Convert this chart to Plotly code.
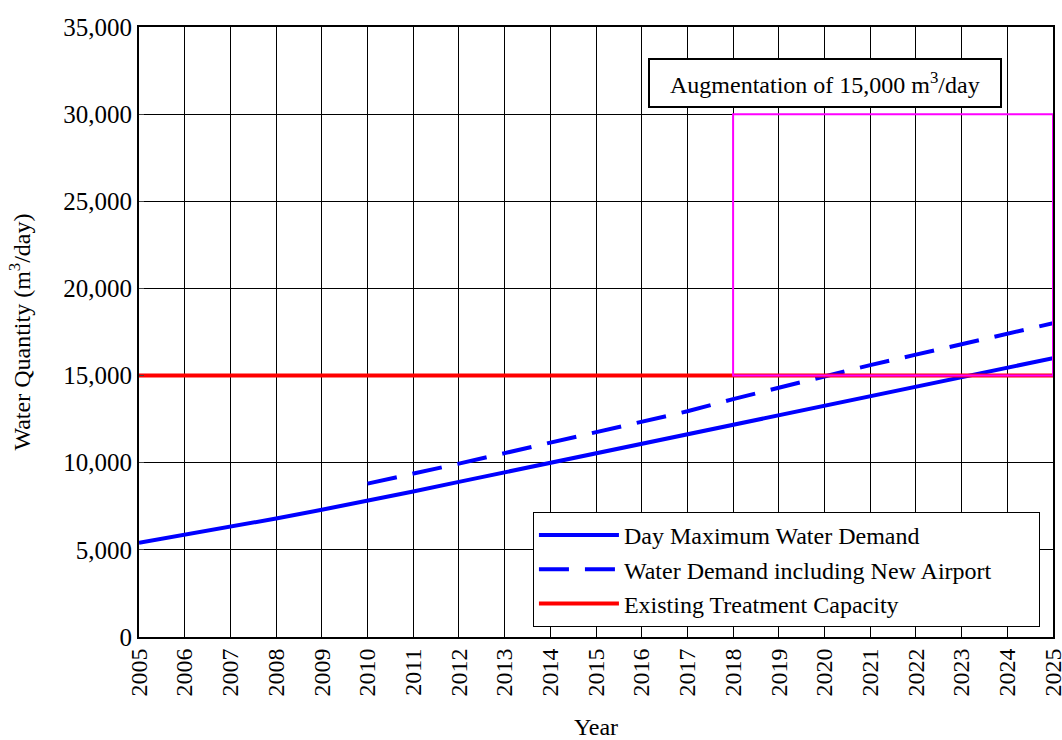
import plotly.graph_objects as go

years = list(range(2005, 2026))
day_max = [5400, 5850, 6300, 6800, 7300, 7800, 8350, 8900, 9450, 10000, 10550,
           11100, 11650, 12200, 12750, 13300, 13850, 14400, 14950, 15500, 16000]
airport_years = list(range(2010, 2026))
airport = [8800, 9350, 9950, 10550, 11150, 11750, 12350, 12950, 13650, 14300,
           15000, 15600, 16200, 16800, 17400, 18000]
capacity_years = [2005, 2025]
capacity = [15000, 15000]
aug_x = [2018, 2025]
aug_y = [15000, 30000]
y_ticks = [0, 5000, 10000, 15000, 20000, 25000, 30000, 35000]

FONT = "Liberation Serif, Times New Roman, serif"
fs = 24
PAD = "&nbsp;" * 7

fig = go.Figure()
fig.add_trace(go.Scatter(x=years, y=day_max, mode="lines", name="Day Maximum Water Demand",
                         line=dict(color="#0000ff", width=4)))
fig.add_trace(go.Scatter(x=airport_years, y=airport, mode="lines",
                         name="Water Demand including New Airport" + PAD,
                         line=dict(color="#0000ff", width=4, dash="30px,16px")))
fig.add_trace(go.Scatter(x=capacity_years, y=capacity, mode="lines",
                         name="Existing Treatment Capacity",
                         line=dict(color="#ff0000", width=4)))

fig.add_shape(type="rect", x0=aug_x[0], x1=aug_x[1], y0=aug_y[0], y1=aug_y[1],
              line=dict(color="#ff00ff", width=2), layer="above")

fig.add_annotation(x=2020, y=31760, xref="x", yref="y",
                   text="&nbsp;&nbsp;Augmentation of 15,000 m<sup>3</sup>/day&nbsp;&nbsp;",
                   showarrow=False,
                   font=dict(family=FONT, size=fs, color="black"),
                   bordercolor="black", borderwidth=2, bgcolor="white", borderpad=8)

fig.update_layout(
    width=1062, height=740,
    margin=dict(l=139, r=9, t=27, b=103, autoexpand=False),
    paper_bgcolor="white", plot_bgcolor="white",
    font=dict(family=FONT, size=fs, color="black"),
    showlegend=True,
    legend=dict(x=0.431, y=0.0164, xanchor="left", yanchor="bottom",
                bordercolor="black", borderwidth=1, bgcolor="white",
                font=dict(family=FONT, size=fs), tracegroupgap=0,
                itemwidth=80),
    xaxis=dict(range=[2005, 2025], tickmode="array", tickvals=years,
               ticktext=[str(y) for y in years], tickangle=-90,
               ticklabeloverflow="allow",
               showgrid=True, gridcolor="black", gridwidth=1,
               showline=True, linecolor="black", linewidth=2, mirror=True,
               ticks="", zeroline=False, automargin=False,
               title=dict(text="Year", font=dict(family=FONT, size=fs), standoff=24)),
    yaxis=dict(range=[0, 35000], tickmode="array", tickvals=y_ticks,
               ticktext=[f"{v:,}" for v in y_ticks],
               tickfont=dict(family=FONT, size=25),
               showgrid=True, gridcolor="black", gridwidth=1,
               showline=True, linecolor="black", linewidth=2, mirror=True,
               ticks="inside", ticklen=5, zeroline=False, automargin=False,
               title=dict(text="Water Quantity (m<sup>3</sup>/day)",
                          font=dict(family=FONT, size=fs), standoff=26)),
)

fig.write_html("out.html", config={"displayModeBar": False},
               post_script="document.body.style.margin='0';")
